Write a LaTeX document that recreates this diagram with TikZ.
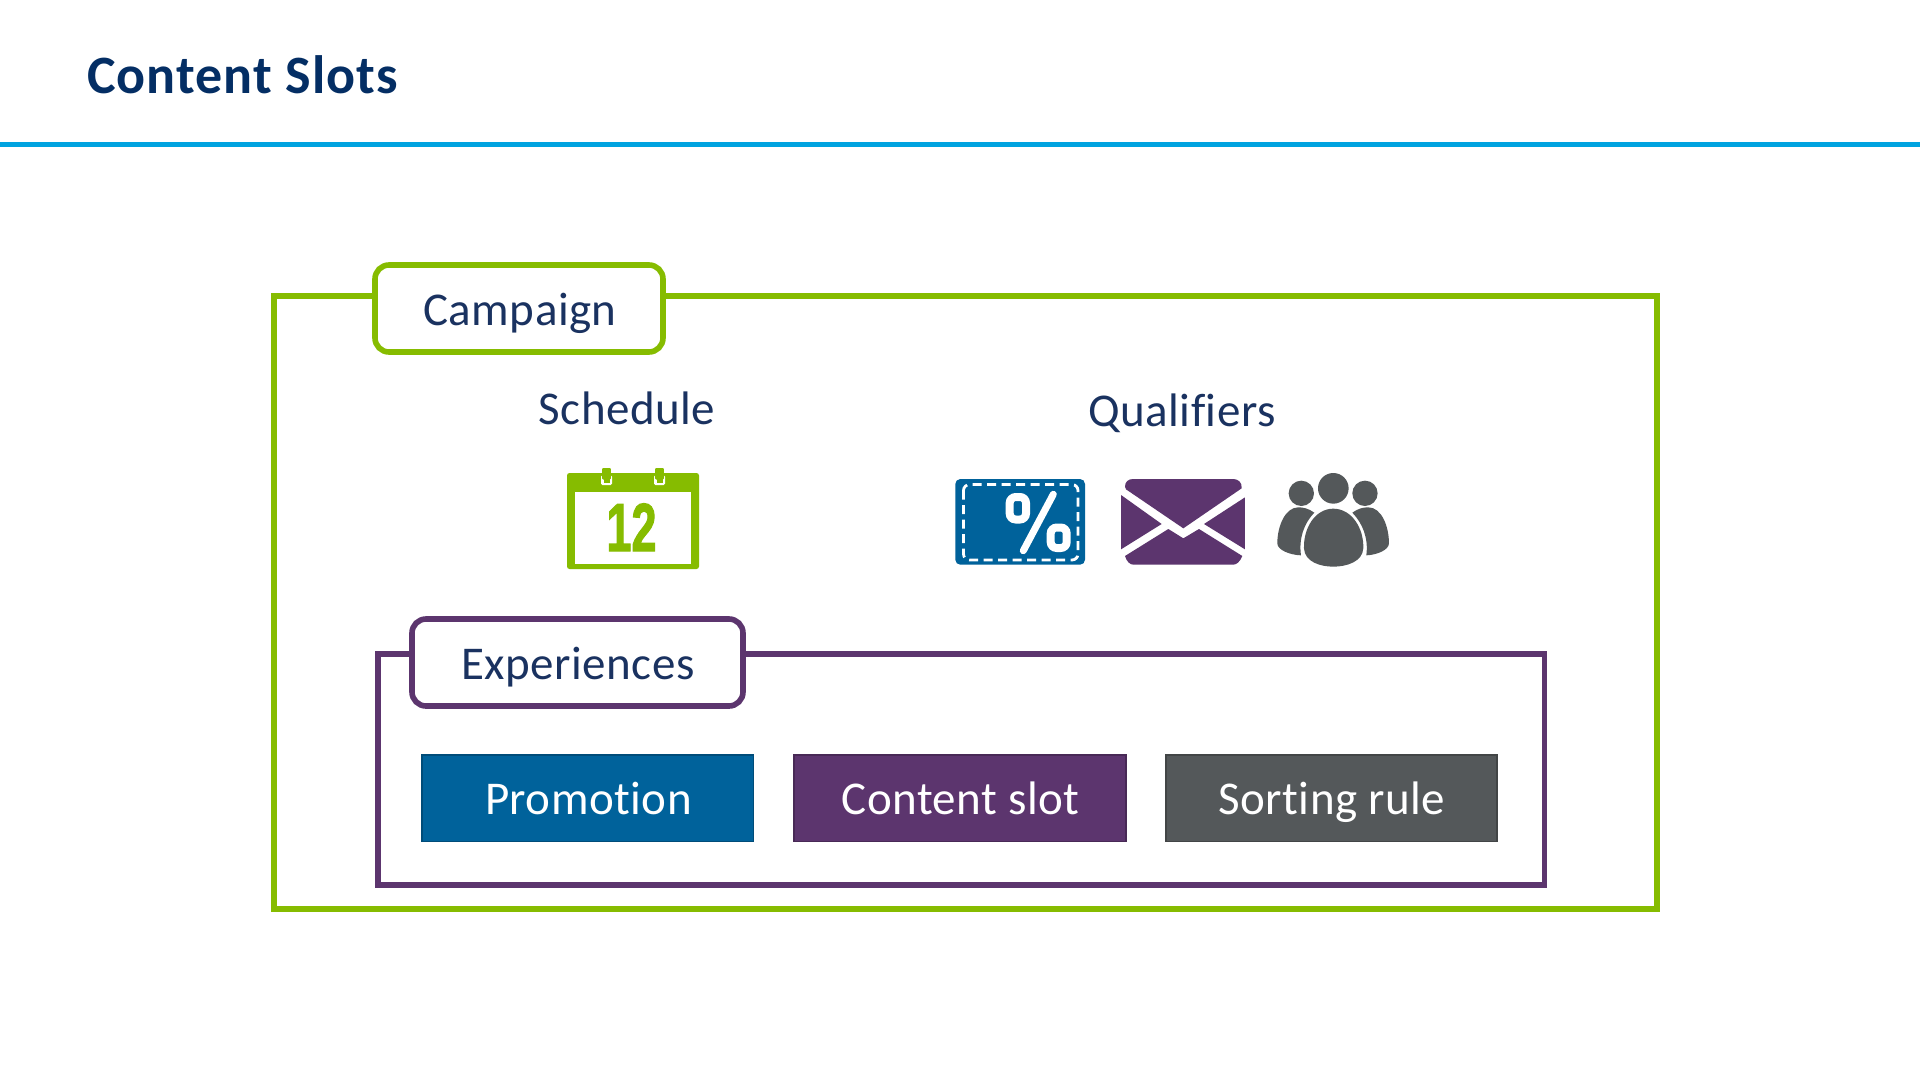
\documentclass[tikz,border=0pt]{standalone}
\usepackage{fontspec}
\setmainfont{Carlito}[LetterSpace=1,Ligatures=NoCommon]
\newfontfamily\titlefont{Carlito}[LetterSpace=2,Ligatures=NoCommon]
\newfontfamily\digitfont{Liberation Sans}[FakeBold=2]
\definecolor{cgreen}{HTML}{86BC00}
\definecolor{cpurple}{HTML}{5C356E}
\definecolor{cgrey}{HTML}{54585A}
\definecolor{cblue}{HTML}{00629B}
\definecolor{cline}{HTML}{00A3E0}
\definecolor{cnavy}{HTML}{1A3260}
\definecolor{ctitle}{HTML}{042E64}
\tikzset{
  label text/.style={font=\fontsize{47}{52}\selectfont,text=cnavy,anchor=base,inner sep=0pt},
  tag/.style={line width=5.6pt,rounded corners=14pt,fill=white},
  frame/.style={line width=5.6pt},
  slotbox/.style={line width=1.6pt,draw=#1!78!black,fill=#1},
  slot text/.style={font=\fontsize{47}{52}\selectfont,text=white,anchor=base,inner sep=0pt},
}
\begin{document}
\begin{tikzpicture}[x=1pt,y=-1pt]
\useasboundingbox (0,0) rectangle (1920,1080);
\fill[white] (0,0) rectangle (1920,1080);
% header
\node[font=\titlefont\bfseries\fontsize{54}{60}\selectfont,text=ctitle,anchor=base west,inner sep=0pt] (title) at (87,93) {Content Slots};
\fill[cline] (0,141.8) rectangle (1920,147.2);
% campaign
\draw[frame,draw=cgreen] (274,296) rectangle (1657,909);
\draw[tag,draw=cgreen] (375,265) rectangle (663,352);
\node[label text] (campaign) at (520,325) {Campaign};
\node[label text] (schedule) at (627,424) {Schedule};
\node[label text] (qualifiers) at (1182,426) {Qualifiers};
% calendar
\fill[cgreen,rounded corners=2.5pt] (567,473) rectangle (699,569);
\fill[white] (575,491.5) rectangle (691,563.5);
\foreach \cx in {606.5,659.5}{
  \fill[white,rounded corners=1.5pt] (\cx-5.5,475) rectangle (\cx+5.5,485);
  \fill[cgreen] (\cx-3,479) rectangle (\cx+3,482.5);
  \fill[cgreen,rounded corners=1pt] (\cx-4.3,468) rectangle (\cx+4.3,479.5);
}
\node[font=\digitfont\bfseries\fontsize{68}{68}\selectfont,text=cgreen,anchor=base,inner sep=0pt,xscale=.66] (twelve) at (631.5,551) {12};
% coupon
\fill[cblue,rounded corners=5pt] (955.3,479) rectangle (1085,564.7);
\draw[white,line width=2.8pt,rounded corners=6pt,dash pattern=on 9pt off 5.5pt] (963.5,484.5) rectangle (1078,560);
\draw[white,line width=8pt,rounded corners=6pt] (1009.7,497) rectangle (1026,519.5);
\draw[white,line width=8pt,rounded corners=6pt] (1050.7,527.5) rectangle (1066.7,548);
\draw[white,line width=7pt,line cap=round] (1053.3,494.3) -- (1023.3,550.7);
% envelope
\begin{scope}[shift={(1100,460)},x=.3333pt,y=-.3333pt]
\fill[cpurple] (75,80) .. controls (75,65) and (85,57) .. (100,57) -- (400,57) .. controls (415,57) and (427,68) .. (425,85) -- (250,205) -- (78,88) -- cycle;
\fill[cpurple] (63,105) -- (185,192) -- (63,268) -- cycle;
\fill[cpurple] (435,112) -- (312,192) -- (435,268) -- cycle;
\fill[cpurple] (75,288) -- (205,207) -- (250,235) -- (297,207) -- (427,288) .. controls (420,305) and (410,314) .. (400,314) -- (100,314) .. controls (90,314) and (80,305) .. (75,288) -- cycle;
% people
\fill[cgrey] (700,85) circle[radius=46];
\fill[cgrey] (604,100) circle[radius=38];
\fill[cgrey] (795,100) circle[radius=38];
\fill[cgrey] (700,146) .. controls (755,146) and (792,205) .. (790,265) .. controls (788,305) and (740,320) .. (700,320) .. controls (660,320) and (614,305) .. (612,265) .. controls (610,205) and (645,146) .. (700,146) -- cycle;
\fill[cgrey] (643,158) .. controls (625,145) and (610,142) .. (595,142) .. controls (555,142) and (532,200) .. (532,250) .. controls (532,270) and (570,285) .. (603,286) .. controls (596,235) and (612,190) .. (643,158) -- cycle;
\fill[cgrey] (757,158) .. controls (775,145) and (790,142) .. (805,142) .. controls (845,142) and (867,200) .. (867,250) .. controls (867,270) and (830,285) .. (799,286) .. controls (806,235) and (788,190) .. (757,158) -- cycle;
\end{scope}
% experiences
\draw[frame,draw=cpurple] (378,654) rectangle (1544.5,885);
\draw[tag,draw=cpurple] (412,619) rectangle (743,706);
\node[label text] (experiences) at (578,679) {Experiences};
\path[slotbox=cblue] (421.8,754.8) rectangle (753.6,841.4);
\node[slot text] (promotion) at (588.5,814) {Promotion};
\path[slotbox=cpurple] (793.8,754.8) rectangle (1126,841.4);
\node[slot text] (contentslot) at (960.5,814) {Content slot};
\path[slotbox=cgrey] (1165.8,754.8) rectangle (1497,841.4);
\node[slot text] (sortingrule) at (1332,814) {Sorting rule};
\end{tikzpicture}
\end{document}
